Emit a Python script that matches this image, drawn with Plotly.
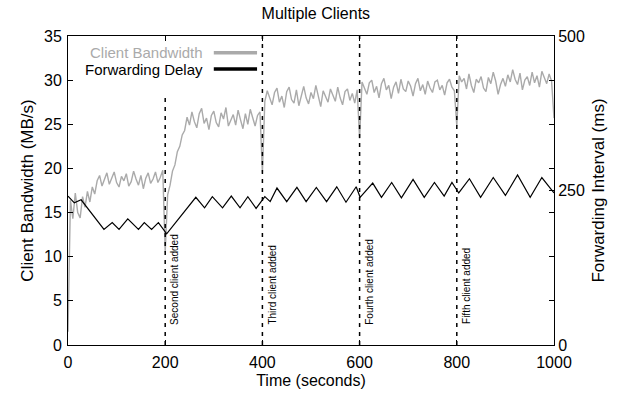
import plotly.graph_objects as go

# ---------------- data ----------------
bw_time = list(range(0, 1001, 5))
bw_values = [
    1.5, 16.4, 14.3, 17.2, 15.0, 14.4, 16.8, 15.6, 17.4, 16.2,
    17.9, 17.1, 18.6, 19.2, 18.0, 18.7, 19.5, 18.2, 18.9, 19.6,
    18.4, 17.9, 19.1, 18.6, 19.4, 18.0, 18.5, 19.7, 18.8, 18.1,
    19.2, 17.7, 18.9, 19.5, 18.3, 18.8, 19.6, 18.4, 19.0, 19.8,
    10.5, 17.0, 18.1, 19.7, 20.4, 21.9, 22.5, 23.8, 24.3, 25.8,
    24.9, 26.4, 25.3, 24.6, 26.2, 26.8, 25.1, 25.7, 24.4, 26.0,
    26.5, 25.2, 24.7, 26.3, 25.6, 26.9, 24.8, 25.4, 26.1, 24.9,
    26.6, 25.5, 24.5, 26.2, 25.0, 26.7, 25.8, 24.8, 26.0, 26.4,
    19.5, 27.6, 28.8, 27.9, 27.2, 28.6, 29.1, 27.5, 28.2, 26.9,
    28.7, 29.2, 27.8, 27.4, 28.9, 27.1, 28.4, 29.3, 28.0, 27.3,
    28.6, 27.9, 29.4, 28.3, 27.0, 28.8, 28.1, 27.5, 29.0, 28.4,
    27.6, 29.2, 28.0, 27.2, 28.7, 29.0, 27.7, 28.5, 27.4, 28.9,
    23.4, 29.8, 29.1, 28.4, 29.7, 30.0, 28.6, 29.3, 28.0, 29.6,
    30.2, 28.9, 29.4, 27.9, 29.2, 29.8, 28.5, 30.1, 29.0, 28.7,
    29.9, 29.3, 28.2, 29.6, 30.2, 28.8, 29.5, 28.4, 29.9, 29.1,
    28.6, 29.8, 30.0, 28.9, 29.4, 28.3, 29.7, 30.1, 29.2, 28.8,
    24.8, 30.5, 29.8, 30.2, 29.0, 30.7, 29.4, 28.6, 30.1, 29.7,
    30.4, 29.1, 28.7, 30.3, 29.6, 30.9, 29.9, 28.4, 29.5, 30.2,
    29.3, 30.6, 29.8, 31.2, 30.1, 29.5, 30.8, 28.9, 30.0, 30.4,
    29.4, 30.9, 29.7, 30.5, 29.2, 31.0, 30.3, 29.6, 30.7, 29.9,
    25.7,
]

fd_time = [0, 13, 27, 74, 91, 105, 123, 145, 157, 172, 186, 203, 263, 281, 297,
           318, 336, 354, 370, 387, 405, 416, 430, 450, 471, 490, 511, 532, 553,
           572, 593, 601, 627, 645, 666, 686, 710, 733, 754, 774, 790, 804, 826,
           849, 875, 900, 925, 951, 975, 1000]
fd_values = [241, 230, 235, 187, 198, 187, 204, 187, 198, 187, 198, 180, 239, 222,
             240, 222, 241, 222, 240, 221, 240, 232, 254, 232, 255, 232, 255, 232,
             256, 231, 256, 239, 262, 239, 263, 238, 268, 239, 263, 241, 263, 246,
             269, 239, 271, 242, 275, 239, 271, 246]

event_times = [200, 400, 600, 800]
event_tops = [28.5, 35, 35, 35]
event_labels = ["Second client added", "Third client added",
                "Fourth client added", "Fifth client added"]

x_ticks = [0, 200, 400, 600, 800, 1000]
y_ticks = [0, 5, 10, 15, 20, 25, 30, 35]
y2_ticks = [0, 250, 500]

series_names = ["Client Bandwidth", "Forwarding Delay"]

# ---------------- figure ----------------
GRAY = "#aaaaaa"
FONT = "Liberation Sans, Arial, sans-serif"

fig = go.Figure()
fig.add_trace(go.Scatter(x=bw_time, y=bw_values, mode="lines", name=series_names[0],
                         line=dict(color=GRAY, width=1.4), yaxis="y"))
fig.add_trace(go.Scatter(x=fd_time, y=fd_values, mode="lines", name=series_names[1],
                         line=dict(color="black", width=1.2), yaxis="y2"))

for t, top, lab in zip(event_times, event_tops, event_labels):
    fig.add_shape(type="line", xref="x", yref="y", x0=t, x1=t, y0=0, y1=top,
                  line=dict(color="black", width=1.5, dash="4px,5px"))
    fig.add_annotation(x=t + 20, y=2.1, xref="x", yref="y", text=lab, textangle=-90,
                       showarrow=False, xanchor="center", yanchor="bottom",
                       font=dict(size=10, color="black", family=FONT))

# custom gnuplot-style key (text right-aligned, sample to the right)
key_y = [0.946, 0.893]
key_col = [GRAY, "black"]
for name, yy, col in zip(series_names, key_y, key_col):
    fig.add_annotation(x=0.282, y=yy, xref="paper", yref="paper", text=name,
                       showarrow=False, xanchor="right", yanchor="middle",
                       font=dict(size=15, color=col, family=FONT))
    fig.add_shape(type="line", xref="paper", yref="paper", x0=0.300, x1=0.389,
                  y0=yy, y1=yy, line=dict(color=col, width=3.5))

axis_common = dict(showline=True, linecolor="black", linewidth=1, ticks="inside",
                   ticklen=5, tickcolor="black", showgrid=False, zeroline=False,
                   tickfont=dict(size=16, color="black", family=FONT))

fig.update_layout(
    width=617, height=398,
    margin=dict(l=68, r=56, t=36, b=52),
    paper_bgcolor="white", plot_bgcolor="white",
    showlegend=False,
    font=dict(family=FONT, color="black"),
    title=dict(text="Multiple Clients", x=0.51, xref="paper", y=1 - 13 / 398,
               yref="container", yanchor="middle", xanchor="center",
               font=dict(size=16, color="black", family=FONT)),
    xaxis=dict(range=[0, 1000], tickvals=x_ticks, mirror="ticks",
               ticklabelstandoff=3,
               title=dict(text="Time (seconds)", font=dict(size=16), standoff=4),
               **axis_common),
    yaxis=dict(range=[0, 35], tickvals=y_ticks, mirror="ticks",
               ticklabelstandoff=2,
               title=dict(text="Client Bandwidth (MB/s)", font=dict(size=17), standoff=6),
               **axis_common),
    yaxis2=dict(range=[0, 500], tickvals=y2_ticks, overlaying="y", side="right",
                title=dict(text="Forwarding Interval (ms)", font=dict(size=17), standoff=8),
                **axis_common),
)

# remove the browser's default 8px body margin so the figure sits at the page origin
fig.write_html("out.html", config={"displayModeBar": False},
               post_script="document.body.style.margin='0px';document.body.style.overflow='hidden';")
